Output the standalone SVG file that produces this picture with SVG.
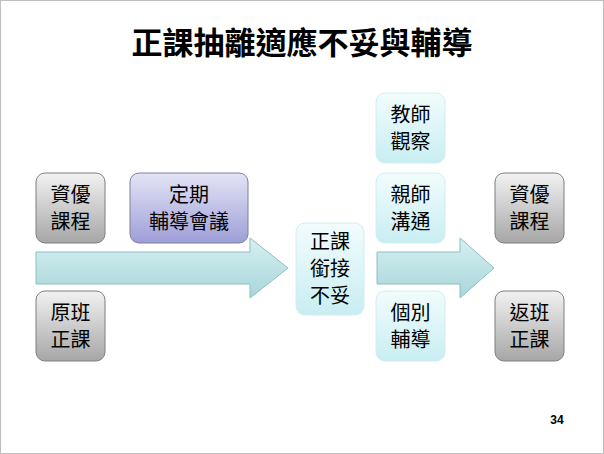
<svg xmlns="http://www.w3.org/2000/svg" width="604" height="454" viewBox="0 0 604 454">
<defs>
<linearGradient id="g" x1="0" y1="0" x2="0" y2="1"><stop offset="0" stop-color="#f2f2f2"/><stop offset="1" stop-color="#a6a6a6"/></linearGradient>
<linearGradient id="p" x1="0" y1="0" x2="0" y2="1"><stop offset="0" stop-color="#e4e4f6"/><stop offset="1" stop-color="#9e9ed8"/></linearGradient>
<linearGradient id="c" x1="0" y1="0" x2="0" y2="1"><stop offset="0" stop-color="#f2fcfd"/><stop offset="1" stop-color="#c8eef2"/></linearGradient>
<linearGradient id="a" x1="0" y1="0" x2="0" y2="1"><stop offset="0" stop-color="#d6f0f2"/><stop offset="1" stop-color="#a8d6da"/></linearGradient>
</defs>
<style>
.t{font-family:"Noto Sans CJK TC","Noto Sans CJK SC",sans-serif;font-size:20px;fill:#000;text-anchor:middle}
.g{fill:url(#g);stroke:#7f7f7f;stroke-width:1}
.p{fill:url(#p);stroke:#7f7f9f;stroke-width:1}
.c{fill:url(#c);stroke:#d0eef0;stroke-width:1}
.ar{fill:url(#a);stroke:#8cbfc4;stroke-width:1}
</style>
<rect x="0.5" y="0.5" width="603" height="453" fill="#fff" stroke="#bfbfbf"/>
<text x="302" y="54" style="font-family:'Noto Sans CJK TC',sans-serif;font-size:31px;font-weight:bold;text-anchor:middle">正課抽離適應不妥與輔導</text>
<g id="connectors">
<path class="ar" d="M36,252 H250 V238 L288,268 L250,298 V284 H36 Z"/>
<path class="ar" d="M377,252 H460 V238 L494,268 L460,298 V284 H377 Z"/>
</g>
<g id="n1"><rect class="g" x="36" y="173" width="69" height="70" rx="9"/><text class="t" x="70.5" y="202">資優</text><text class="t" x="70.5" y="229">課程</text></g>
<g id="n2"><rect class="p" x="130" y="173" width="118" height="70" rx="9"/><text class="t" x="189" y="202">定期</text><text class="t" x="189" y="229">輔導會議</text></g>
<g id="n3"><rect class="g" x="36" y="291" width="69" height="70" rx="9"/><text class="t" x="70.5" y="320">原班</text><text class="t" x="70.5" y="347">正課</text></g>
<g id="n4"><rect class="c" x="296" y="223" width="68" height="92" rx="9"/><text class="t" x="330" y="249">正課</text><text class="t" x="330" y="276">銜接</text><text class="t" x="330" y="303">不妥</text></g>
<g id="n5"><rect class="c" x="376" y="93" width="69" height="70" rx="9"/><text class="t" x="410.5" y="122">教師</text><text class="t" x="410.5" y="149">觀察</text></g>
<g id="n6"><rect class="c" x="376" y="173" width="69" height="70" rx="9"/><text class="t" x="410.5" y="202">親師</text><text class="t" x="410.5" y="229">溝通</text></g>
<g id="n7"><rect class="c" x="376" y="291" width="69" height="70" rx="9"/><text class="t" x="410.5" y="320">個別</text><text class="t" x="410.5" y="347">輔導</text></g>
<g id="n8"><rect class="g" x="495" y="173" width="69" height="70" rx="9"/><text class="t" x="529.5" y="202">資優</text><text class="t" x="529.5" y="229">課程</text></g>
<g id="n9"><rect class="g" x="495" y="291" width="69" height="70" rx="9"/><text class="t" x="529.5" y="320">返班</text><text class="t" x="529.5" y="347">正課</text></g>
<text x="557" y="424" style="font-family:'Liberation Sans',sans-serif;font-size:12px;font-weight:bold;text-anchor:middle">34</text>
</svg>
